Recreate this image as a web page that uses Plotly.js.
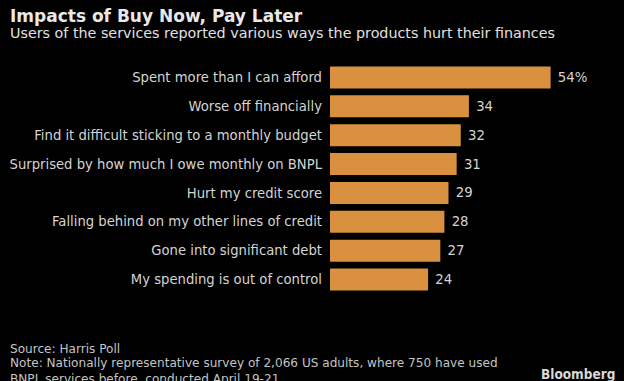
<!DOCTYPE html>
<html><head><meta charset="utf-8">
<script src="https://cdn.plot.ly/plotly-3.0.1.min.js"></script>
<style>html,body{margin:0;padding:0;background:#000;}</style>
</head><body><div id="chart" style="width:624px;height:381px;"></div>
<script>
const categories = [
  "Spent more than I can afford",
  "Worse off financially",
  "Find it difficult sticking to a monthly budget",
  "Surprised by how much I owe monthly on BNPL",
  "Hurt my credit score",
  "Falling behind on my other lines of credit",
  "Gone into significant debt",
  "My spending is out of control"
];
const values = [54, 34, 32, 31, 29, 28, 27, 24];
const valueLabels = ["54%", "34", "32", "31", "29", "28", "27", "24"];

const FONT = "DejaVu Sans, sans-serif";
const FONTC = "DejaVu Sans Condensed, DejaVu Sans, sans-serif";
const TXT = "#d4d4d4";

const trace = {
  type: "bar",
  orientation: "h",
  y: categories,
  x: values,
  text: valueLabels.map(s => " " + s),
  textposition: "outside",
  cliponaxis: false,
  textfont: {family: FONT, size: 13.3, color: TXT},
  marker: {color: "#d9913f"},
  hoverinfo: "none"
};

const layout = {
  width: 624, height: 381,
  paper_bgcolor: "#000", plot_bgcolor: "#000",
  margin: {l: 330, r: 8, t: 62.5, b: 86.5},
  bargap: 0.24,
  showlegend: false,
  font: {family: FONT, color: TXT, size: 13.2},
  xaxis: {range: [0, 70], visible: false, fixedrange: true},
  yaxis: {
    autorange: "reversed", showgrid: false, zeroline: false, showline: false,
    ticks: "", ticklabelstandoff: 7,
    tickfont: {family: FONT, size: 13.2, color: TXT}
  },
  annotations: [
    {text: "<b>Impacts of Buy Now, Pay Later</b>", xref: "paper", yref: "paper", x: -330/286, xshift: 8, y: 1, yshift: 59.5,
     xanchor: "left", yanchor: "top", showarrow: false, font: {family: FONT, size: 17, color: "#e8e8e8"}},
    {text: "Users of the services reported various ways the products hurt their finances", xref: "paper", yref: "paper",
     x: -330/286, xshift: 8, y: 1, yshift: 40.5, xanchor: "left", yanchor: "top", showarrow: false,
     font: {family: FONT, size: 14.3, color: "#e0e0e0"}},
    {text: "Source: Harris Poll", xref: "paper", yref: "paper", x: -330/286, xshift: 8, y: 0, yshift: -45.5,
     xanchor: "left", yanchor: "top", showarrow: false, font: {family: FONT, size: 12.1, color: "#c4c4c4"}},
    {text: "Note: Nationally representative survey of 2,066 US adults, where 750 have used<br>BNPL services before, conducted April 19-21",
     xref: "paper", yref: "paper", x: -330/286, xshift: 8, y: 0, yshift: -60, align: "left",
     xanchor: "left", yanchor: "top", showarrow: false, font: {family: FONT, size: 12.1, color: "#c4c4c4"}},
    {text: "<b>Bloomberg</b>", xref: "paper", yref: "paper", x: 1, y: 0, yshift: -69.5, xshift: 1,
     xanchor: "right", yanchor: "top", showarrow: false, font: {family: FONTC, size: 13.5, color: "#d8d8d8"}}
  ]
};

Plotly.newPlot("chart", [trace], layout, {displayModeBar: false, staticPlot: true});
</script></body></html>
